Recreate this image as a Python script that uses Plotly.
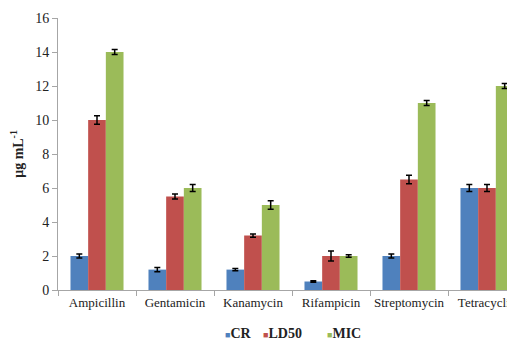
import plotly.graph_objects as go

categories = ["Ampicillin", "Gentamicin", "Kanamycin", "Rifampicin", "Streptomycin", "Tetracyclin"]
cr = [2.0, 1.2, 1.2, 0.5, 2.0, 6.0]
cr_err = [0.12, 0.12, 0.07, 0.04, 0.12, 0.2]
ld50 = [10.0, 5.5, 3.2, 2.0, 6.5, 6.0]
ld50_err = [0.25, 0.15, 0.1, 0.3, 0.25, 0.2]
mic = [14.0, 6.0, 5.0, 2.0, 11.0, 12.0]
mic_err = [0.15, 0.2, 0.25, 0.08, 0.15, 0.15]
legend_names = ["CR", "LD50", "MIC"]
colors = ["#4F81BD", "#C0504D", "#9BBB59"]

serif = "Liberation Serif"
fig = go.Figure()
for name, vals, errs, col in zip(legend_names, [cr, ld50, mic], [cr_err, ld50_err, mic_err], colors):
    fig.add_trace(go.Bar(
        x=categories, y=vals, name=name, marker=dict(color=col, line=dict(width=0)),
        error_y=dict(type="data", array=errs, color="black", thickness=1.5, width=3),
        showlegend=False,
    ))

# legend drawn as compact text entries below the axis
legend_x = [0.3526, 0.4346, 0.571]
for name, col, lx in zip(legend_names, colors, legend_x):
    fig.add_annotation(
        x=lx, y=-0.16, xref="paper", yref="paper", xanchor="left", yanchor="middle",
        showarrow=False,
        text=f"<span style='color:{col};font-size:9px'>■</span><b>{name}</b>",
        font=dict(family=serif, size=14, color="#222222"),
    )

fig.update_layout(
    width=518, height=334,
    margin=dict(l=50, r=0, t=10, b=52, autoexpand=False),
    paper_bgcolor="white", plot_bgcolor="white",
    barmode="group", bargap=0.32, bargroupgap=0,
    showlegend=False,
    font=dict(family=serif, size=14, color="#222222"),
    xaxis=dict(range=[-0.5, 5.5], showline=True, linecolor="#A6A6A6", linewidth=1,
               ticks="outside", tickson="boundaries", ticklen=5, tickcolor="#A6A6A6",
               showgrid=False, tickangle=0, automargin=False,
               tickfont=dict(family=serif, size=13)),
    yaxis=dict(range=[0, 16], dtick=2, showline=True, linecolor="#A6A6A6", linewidth=1,
               ticks="outside", ticklen=5, tickcolor="#A6A6A6", showgrid=False, zeroline=False,
               tickfont=dict(family=serif, size=14), automargin=False,
               title=dict(text="<b>μg mL<sup>-1</sup></b>", font=dict(family=serif, size=14), standoff=10)),
)
fig.write_html("out.html")
